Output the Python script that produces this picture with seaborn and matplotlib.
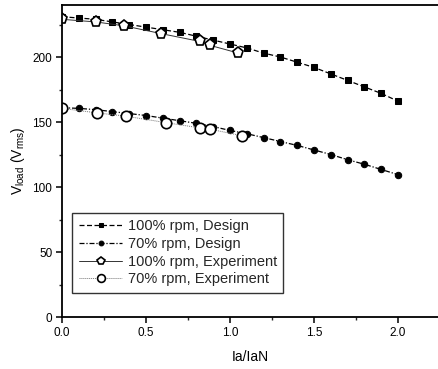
import numpy as np
import pandas as pd
import matplotlib
matplotlib.use("Agg")
import matplotlib.pyplot as plt
import seaborn as sns
from matplotlib.ticker import MultipleLocator

# ---- data ----
ia_design = [0.0, 0.1, 0.2, 0.3, 0.4, 0.5, 0.6, 0.7, 0.8, 0.9, 1.0,
             1.1, 1.2, 1.3, 1.4, 1.5, 1.6, 1.7, 1.8, 1.9, 2.0]
v100_design = [231, 230, 229, 227, 225, 223, 221, 219, 216, 213, 210,
               207, 203, 200, 196, 192, 187, 182, 177, 172, 166]
v70_design = [161, 160.5, 159.5, 158, 156.5, 155, 153, 151, 149, 146.5, 143.5,
              141, 138, 135, 132, 128.5, 125, 121, 117.5, 113.5, 109.5]

ia_exp100 = [0.0, 0.2, 0.37, 0.59, 0.82, 0.88, 1.05]
v100_exp = [229, 227, 224, 218, 212, 209, 203]
ia_exp70 = [0.0, 0.21, 0.38, 0.62, 0.82, 0.88, 1.07]
v70_exp = [160.5, 157, 154.5, 149.5, 145.5, 144.5, 139.5]

labels = ["100% rpm, Design", "70% rpm, Design",
          "100% rpm, Experiment", "70% rpm, Experiment"]

sns.set_theme(style="ticks")
plt.rcParams["font.family"] = ["Liberation Sans", "DejaVu Sans"]
plt.rcParams["mathtext.fontset"] = "custom"
plt.rcParams["mathtext.rm"] = "Liberation Sans"
plt.rcParams["axes.linewidth"] = 1.3

fig = plt.figure(figsize=(4.38, 3.69), dpi=100)
ax = fig.add_axes([0.1416, 0.1409, 0.8584, 0.8455])

sns.lineplot(x=ia_design, y=v100_design, ax=ax, estimator=None, sort=False,
             color="black", lw=0.9, linestyle=(0, (4, 2)), marker="s", ms=4.2,
             mec="black", mfc="black", label=labels[0])
sns.lineplot(x=ia_design, y=v70_design, ax=ax, estimator=None, sort=False,
             color="black", lw=0.9, linestyle=(0, (4, 1.5, 1, 1.5)), marker="o", ms=4.6,
             mec="black", mfc="black", label=labels[1])
sns.lineplot(x=ia_exp100, y=v100_exp, ax=ax, estimator=None, sort=False,
             color="#333333", lw=0.7, linestyle="-", marker="p", ms=8,
             mec="black", mfc="white", mew=1.2, label=labels[2])
sns.lineplot(x=ia_exp70, y=v70_exp, ax=ax, estimator=None, sort=False,
             color="#777777", lw=0.7, linestyle=(0, (1, 1)), marker="o", ms=7.5,
             mec="black", mfc="white", mew=1.2, label=labels[3])

ax.set_xlim(0, 2.238)
ax.set_ylim(0, 240)
ax.xaxis.set_major_locator(MultipleLocator(0.5))
ax.xaxis.set_minor_locator(MultipleLocator(0.25))
ax.yaxis.set_major_locator(MultipleLocator(50))
ax.yaxis.set_minor_locator(MultipleLocator(25))
ax.xaxis.set_major_formatter(plt.FormatStrFormatter("%.1f"))
ax.tick_params(which="major", direction="out", length=4, width=1.1,
               labelsize=8.5, colors="black", pad=3)
ax.tick_params(which="minor", direction="out", length=2.5, width=1.0)
for side in ["left", "bottom", "top"]:
    ax.spines[side].set_visible(True)
    ax.spines[side].set_color("black")
ax.spines["right"].set_visible(False)

ax.set_xlabel("Ia/IaN", fontsize=10, color="black", labelpad=8)
ax.set_ylabel(r"V$_{\mathrm{load}}$ (V$_{\mathrm{rms}}$)", fontsize=10,
              color="black", labelpad=4)

leg = ax.legend(loc="lower left", bbox_to_anchor=(0.027, 0.077), borderaxespad=0,
                fontsize=10.5, frameon=True, fancybox=False, edgecolor="black",
                labelspacing=0.25, handlelength=3.0, handletextpad=0.35,
                borderpad=0.45, markerscale=0.75)
leg.get_frame().set_linewidth(1.0)

fig.savefig("out.png", dpi=100, facecolor="white")
